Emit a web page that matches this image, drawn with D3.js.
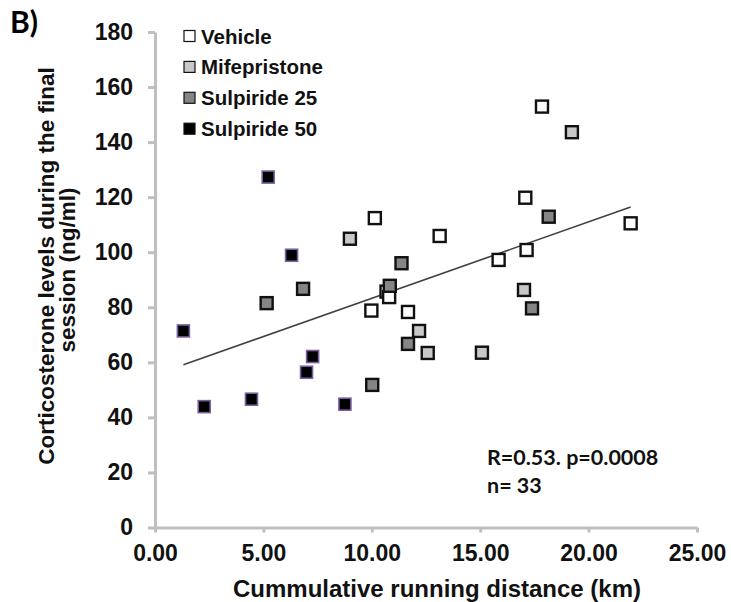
<!DOCTYPE html>
<html>
<head>
<meta charset="utf-8">
<script src="https://cdn.jsdelivr.net/npm/d3@7"></script>
<style>
  body { margin: 0; background: #fff; }
  svg { display: block; }
</style>
</head>
<body>
<svg id="chart" width="731" height="602"></svg>
<script>
// data (km, ng/ml)
const groups = ["Vehicle", "Mifepristone", "Sulpiride 25", "Sulpiride 50"];

const vehicleX = [10.14, 10.68, 10.80, 9.98, 11.67, 13.13, 15.85, 17.14, 17.08, 17.85, 21.94];
const vehicleY = [112.4, 85.7, 83.7, 78.8, 78.3, 105.9, 97.2, 100.8, 119.8, 152.9, 110.5];

const mifeX = [8.99, 12.18, 12.58, 15.08, 17.02, 19.23];
const mifeY = [104.9, 71.4, 63.4, 63.5, 86.3, 143.6];

const sulp25X = [5.15, 6.83, 11.37, 10.83, 11.67, 10.02, 17.39, 18.16];
const sulp25Y = [81.5, 86.7, 96.0, 87.8, 66.7, 51.8, 79.6, 112.9];

const sulp50X = [5.22, 6.30, 1.31, 7.27, 6.99, 2.27, 4.45, 8.76];
const sulp50Y = [127.3, 98.9, 71.4, 62.1, 56.4, 43.9, 46.6, 44.8];

const xTicks = [0, 5, 10, 15, 20, 25];
const yTicks = [0, 20, 40, 60, 80, 100, 120, 140, 160, 180];

const svg = d3.select("#chart");
const FONT = "'Liberation Sans', Arial, sans-serif";
const AXIS_GREY = "#bfbfbf";

// build point table
const series = [
  { name: groups[0], xs: vehicleX, ys: vehicleY, fill: "#ffffff", stroke: "#111", sw: 2.4 },
  { name: groups[1], xs: mifeX, ys: mifeY, fill: "#c8c8c8", stroke: "#111", sw: 2.4 },
  { name: groups[2], xs: sulp25X, ys: sulp25Y, fill: "#858585", stroke: "#111", sw: 2.4 },
  { name: groups[3], xs: sulp50X, ys: sulp50Y, fill: "#000000", stroke: "#7a5fa0", sw: 1.6 }
];
const points = series.flatMap(s => s.xs.map((x, i) => ({ x, y: s.ys[i], s })));

// scales
const x = d3.scaleLinear().domain([0, 25]).range([155, 697]);
const y = d3.scaleLinear().domain([0, 180]).range([527.5, 32]);

// axes
const yAxis = svg.append("g")
  .attr("transform", `translate(${x(0)},0)`)
  .call(d3.axisLeft(y).tickValues(yTicks).tickSize(7).tickSizeOuter(0).tickPadding(15));

const xAxis = svg.append("g")
  .attr("transform", `translate(0,${y(0)})`)
  .call(d3.axisBottom(x).tickValues(xTicks).tickSize(5).tickSizeOuter(0).tickPadding(12)
    .tickFormat(d3.format(".2f")));

[xAxis, yAxis].forEach(a => {
  a.selectAll("path, line").attr("stroke", AXIS_GREY).attr("stroke-width", 3);
  a.selectAll("text")
    .attr("fill", "#111")
    .attr("font-family", FONT)
    .attr("font-weight", "bold")
    .attr("font-size", "23px");
});

// regression line across the data range
const mx = d3.mean(points, d => d.x), my = d3.mean(points, d => d.y);
const slope = d3.sum(points, d => (d.x - mx) * (d.y - my)) / d3.sum(points, d => (d.x - mx) ** 2);
const icpt = my - slope * mx;
const [x0, x1] = d3.extent(points, d => d.x);

svg.append("line")
  .attr("x1", x(x0)).attr("y1", y(icpt + slope * x0))
  .attr("x2", x(x1)).attr("y2", y(icpt + slope * x1))
  .attr("stroke", "#404040")
  .attr("stroke-width", 1.6);

// markers
const S = 12;
svg.append("g").selectAll("rect")
  .data(points)
  .join("rect")
    .attr("x", d => x(d.x) - S / 2)
    .attr("y", d => y(d.y) - S / 2)
    .attr("width", S)
    .attr("height", S)
    .attr("fill", d => d.s.fill)
    .attr("stroke", d => d.s.stroke)
    .attr("stroke-width", d => d.s.sw);

// legend
const legend = svg.append("g").attr("transform", "translate(184,36)");
series.forEach((s, i) => {
  const row = legend.append("g").attr("transform", `translate(0,${i * 30.9})`);
  row.append("rect")
    .attr("x", 0).attr("y", -5.5)
    .attr("width", 11).attr("height", 11)
    .attr("fill", s.fill)
    .attr("stroke", "#111")
    .attr("stroke-width", 1.2);
  row.append("text")
    .attr("x", 17)
    .attr("y", 7.5)
    .attr("font-family", FONT)
    .attr("font-weight", "bold")
    .attr("font-size", "20.5px")
    .attr("fill", "#111")
    .text(s.name);
});

// axis titles
svg.append("text")
  .attr("x", 437)
  .attr("y", 597)
  .attr("text-anchor", "middle")
  .attr("font-family", FONT)
  .attr("font-weight", "bold")
  .attr("font-size", "24px")
  .attr("fill", "#111")
  .text("Cummulative running distance (km)");

const yTitle = svg.append("text")
  .attr("transform", "rotate(-90)")
  .attr("text-anchor", "middle")
  .attr("font-family", FONT)
  .attr("font-weight", "bold")
  .attr("font-size", "22.5px")
  .attr("fill", "#111");
yTitle.append("tspan").attr("x", -266).attr("y", 54).text("Corticosterone levels during the final");
yTitle.append("tspan").attr("x", -270).attr("y", 75).text("session (ng/ml)");

// panel letter and stats
svg.append("text")
  .attr("x", 10).attr("y", 33)
  .attr("font-family", "Lato, 'Open Sans', sans-serif")
  .attr("font-weight", "bold")
  .attr("font-size", "30px")
  .attr("fill", "#000")
  .text("B)");

const stats = svg.append("text")
  .attr("font-family", "Lato, 'Open Sans', sans-serif")
  .attr("font-weight", "bold")
  .attr("font-size", "21.5px")
  .attr("fill", "#111");
stats.append("tspan").attr("x", 487).attr("y", 465).text("R=0.53. p=0.0008");
stats.append("tspan").attr("x", 487).attr("y", 493).text("n= 33");
</script>
</body>
</html>
